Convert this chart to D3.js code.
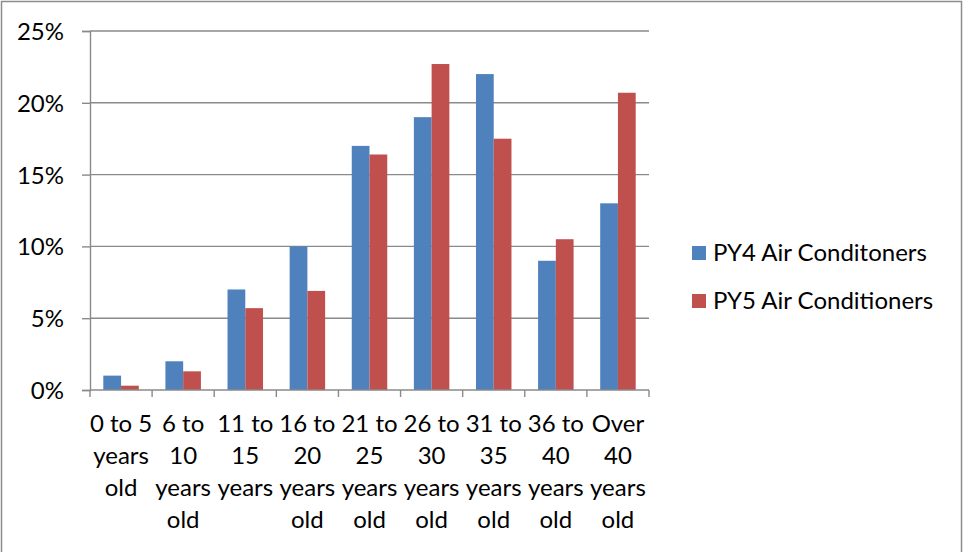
<!DOCTYPE html>
<html>
<head>
<meta charset="utf-8">
<script src="https://cdn.jsdelivr.net/npm/d3@7/dist/d3.min.js"></script>
<style>
  html, body { margin: 0; padding: 0; background: #fff; }
  svg { display: block; font-family: Lato, "Open Sans", sans-serif; }
</style>
</head>
<body>
<svg id="chart" width="963" height="552"></svg>
<script>
// Age bands of air conditioners, as multi-line axis labels
const categories = [
  ["0 to 5", "years", "old"],
  ["6 to", "10", "years", "old"],
  ["11 to", "15", "years"],
  ["16 to", "20", "years", "old"],
  ["21 to", "25", "years", "old"],
  ["26 to", "30", "years", "old"],
  ["31 to", "35", "years", "old"],
  ["36 to", "40", "years", "old"],
  ["Over", "40", "years", "old"]
];
const seriesNames = ["PY4 Air Conditoners", "PY5 Air Conditioners"];
const py4Values = [1, 2, 7, 10, 17, 19, 22, 9, 13];
const py5Values = [0.3, 1.3, 5.7, 6.9, 16.4, 22.7, 17.5, 10.5, 20.7];
const yTicks = [0, 5, 10, 15, 20, 25];
const colors = ["#4F81BD", "#C0504D"];

const svg = d3.select("#chart");
const W = 963, H = 552;
const plot = { left: 90, right: 649, top: 31, bottom: 390 };

// Chart frame
svg.append("rect")
  .attr("x", 1.5).attr("y", 1.5)
  .attr("width", W - 3).attr("height", H + 4)
  .attr("fill", "#fff").attr("stroke", "#8c8c8c").attr("stroke-width", 1.5);

const keys = categories.map((c, i) => i);
const x = d3.scaleBand().domain(keys).range([plot.left, plot.right]).paddingInner(0).paddingOuter(0);
const y = d3.scaleLinear().domain([0, 25]).range([plot.bottom, plot.top]);

// Excel-style clustered bars: gap width 150% of a bar
const barW = x.bandwidth() / 3.5;
const groupOff = x.bandwidth() * 0.75 / 3.5;
const xs = d3.scaleBand().domain([0, 1]).range([0, barW * 2]).padding(0);

// Horizontal gridlines
svg.append("g")
  .selectAll("line")
  .data(yTicks.filter(t => t > 0))
  .join("line")
  .attr("x1", plot.left).attr("x2", plot.right)
  .attr("y1", d => y(d)).attr("y2", d => y(d))
  .attr("stroke", "#8a8a8a").attr("stroke-width", 1.4);

// Bars
const series = [py4Values, py5Values];
series.forEach((vals, s) => {
  svg.append("g")
    .selectAll("rect")
    .data(vals)
    .join("rect")
    .attr("x", (d, i) => x(i) + groupOff + xs(s))
    .attr("y", d => y(d))
    .attr("width", xs.bandwidth())
    .attr("height", d => y(0) - y(d))
    .attr("fill", colors[s]);
});

// Y axis
const yAxis = svg.append("g")
  .attr("transform", `translate(${plot.left},0)`)
  .call(d3.axisLeft(y).tickValues(yTicks).tickSize(8).tickPadding(18).tickFormat(d => d + "%"));
yAxis.select(".domain").attr("stroke", "#8a8a8a").attr("stroke-width", 1.4);
yAxis.selectAll(".tick line").attr("stroke", "#8a8a8a").attr("stroke-width", 1.4);
yAxis.selectAll(".tick text")
  .attr("font-size", 24).attr("fill", "#000")
  .attr("font-family", "Lato, 'Open Sans', sans-serif")
  .attr("dy", "0.35em");

// X axis with ticks between categories
const xAxisG = svg.append("g");
xAxisG.append("line")
  .attr("x1", plot.left).attr("x2", plot.right)
  .attr("y1", plot.bottom).attr("y2", plot.bottom)
  .attr("stroke", "#8a8a8a").attr("stroke-width", 1.4);
xAxisG.selectAll("line.tick")
  .data(keys.concat([keys.length]))
  .join("line")
  .attr("class", "tick")
  .attr("x1", d => d < keys.length ? x(d) : plot.right)
  .attr("x2", d => d < keys.length ? x(d) : plot.right)
  .attr("y1", plot.bottom).attr("y2", plot.bottom + 7)
  .attr("stroke", "#8a8a8a").attr("stroke-width", 1.4);

const labels = xAxisG.selectAll("text")
  .data(categories)
  .join("text")
  .attr("text-anchor", "middle")
  .attr("font-size", 24)
  .attr("fill", "#000")
  .attr("x", (d, i) => x(i) + x.bandwidth() / 2)
  .attr("y", plot.bottom + 42);
labels.selectAll("tspan")
  .data((d, i) => d.map(t => ({ t, i })))
  .join("tspan")
  .attr("x", d => x(d.i) + x.bandwidth() / 2)
  .attr("dy", (d, j) => j === 0 ? 0 : 32)
  .text(d => d.t);

// Legend
const legend = svg.append("g");
seriesNames.forEach((name, s) => {
  const ly = 253 + s * 48;
  legend.append("rect")
    .attr("x", 692).attr("y", ly - 7)
    .attr("width", 14).attr("height", 14)
    .attr("fill", colors[s]);
  legend.append("text")
    .attr("x", 713).attr("y", ly + 8)
    .attr("font-size", 24).attr("fill", "#000")
    .text(name);
});
</script>
</body>
</html>
